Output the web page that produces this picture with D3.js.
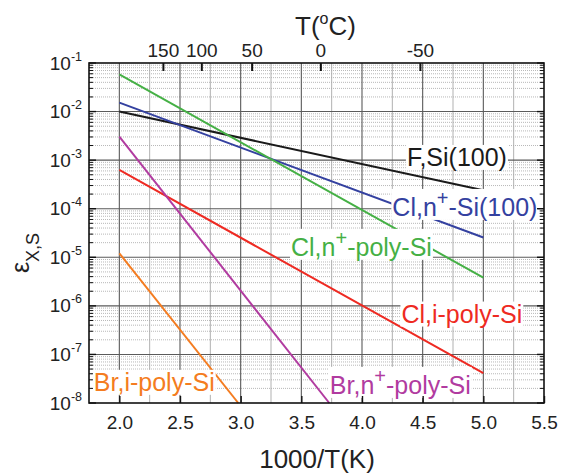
<!DOCTYPE html>
<html>
<head>
<meta charset="utf-8">
<script src="https://cdn.jsdelivr.net/npm/d3@7"></script>
<style>
  body { margin: 0; background: #fff; }
  svg { font-family: Arial, "Liberation Sans", sans-serif; }
</style>
</head>
<body>
<svg id="chart" width="561" height="473"></svg>
<script>
// values
const xTicks = [2.0, 2.5, 3.0, 3.5, 4.0, 4.5, 5.0, 5.5];
const tempTicks = [150, 100, 50, 0, -50];
const yExponents = [-8, -7, -6, -5, -4, -3, -2, -1];

const fSi100 = [[2.0, 1.0e-2], [5.0, 2.4e-4]];
const clNSi100 = [[2.0, 1.53e-2], [5.0, 2.55e-5]];
const clNPoly = [[2.0, 5.8e-2], [5.0, 3.8e-6]];
const clIPoly = [[2.0, 6.3e-4], [5.0, 4.1e-8]];
const brNPoly = [[2.0, 3.05e-3], [3.73, 1e-8]];
const brIPoly = [[2.0, 1.21e-5], [2.98, 1e-8]];

const series = [
  {name: 'F,Si(100)', pts: fSi100, color: '#1a1a1a', lx: 4.37, ly: 7.6e-4},
  {name: 'Cl,n+-Si(100)', pts: clNSi100, color: '#3441a0', lx: 4.25, ly: 7.1e-5},
  {name: 'Cl,n+-poly-Si', pts: clNPoly, color: '#45b045', lx: 3.415, ly: 1.07e-5},
  {name: 'Cl,i-poly-Si', pts: clIPoly, color: '#ee2a22', lx: 4.325, ly: 4.53e-7},
  {name: 'Br,n+-poly-Si', pts: brNPoly, color: '#b13ba0', lx: 3.735, ly: 1.54e-8},
  {name: 'Br,i-poly-Si', pts: brIPoly, color: '#f47c20', lx: 1.79, ly: 1.78e-8}
];

const svg = d3.select('#chart');
const pLeft = 89, pRight = 544, pTop = 63, pBottom = 403;

const x = d3.scaleLinear().domain([1.75, 5.5]).range([pLeft, pRight]);
const y = d3.scaleLog().domain([1e-8, 1e-1]).range([pBottom, pTop]);

const grid = svg.append('g');

// minor horizontal lines (2..9 in each decade)
const minorY = [];
yExponents.slice(0, -1).forEach(e => {
  for (let k = 2; k <= 9; k++) minorY.push(k * Math.pow(10, e));
});
grid.selectAll('line.my').data(minorY).enter().append('line')
    .attr('x1', pLeft).attr('x2', pRight)
    .attr('y1', d => y(d)).attr('y2', d => y(d))
    .attr('stroke', '#b0b0b0').attr('stroke-width', 0.9)
    .attr('stroke-dasharray', '1,1');

// minor vertical lines at quarter steps
const minorX = d3.range(2.25, 5.5, 0.5);
grid.selectAll('line.mx').data(minorX).enter().append('line')
    .attr('x1', d => x(d)).attr('x2', d => x(d))
    .attr('y1', pTop).attr('y2', pBottom)
    .attr('stroke', '#a8a8a8').attr('stroke-width', 0.9);

// major lines
grid.selectAll('line.Mx').data(xTicks.filter(d => d < 5.5)).enter().append('line')
    .attr('x1', d => x(d)).attr('x2', d => x(d))
    .attr('y1', pTop).attr('y2', pBottom)
    .attr('stroke', '#5a5a5a').attr('stroke-width', 1.1);
grid.selectAll('line.My').data(yExponents.slice(1, -1)).enter().append('line')
    .attr('x1', pLeft).attr('x2', pRight)
    .attr('y1', d => y(Math.pow(10, d))).attr('y2', d => y(Math.pow(10, d)))
    .attr('stroke', '#5a5a5a').attr('stroke-width', 1.1);

// data lines
const line = d3.line().x(d => x(d[0])).y(d => y(d[1]));
svg.append('g').selectAll('path').data(series).enter().append('path')
    .attr('d', d => line(d.pts))
    .attr('fill', 'none')
    .attr('stroke', d => d.color)
    .attr('stroke-width', 2);

// series labels with white background
const labels = svg.append('g');
series.forEach(s => {
  const g = labels.append('g');
  const rect = g.append('rect').attr('fill', '#fff');
  const t = g.append('text')
      .attr('x', x(s.lx)).attr('y', y(s.ly))
      .attr('fill', s.color)
      .attr('font-size', 25);
  const parts = s.name.split('+');
  if (parts.length > 1) {
    t.append('tspan').text(parts[0]);
    t.append('tspan').text('+').attr('font-size', 20).attr('dy', -11);
    t.append('tspan').text(parts[1]).attr('dy', 11);
  } else {
    t.text(s.name);
  }
  const b = t.node().getBBox();
  rect.attr('x', b.x - 1).attr('y', b.y + 2).attr('width', b.width + 2).attr('height', b.height - 3);
});

// frame
svg.append('rect')
    .attr('x', pLeft).attr('y', pTop)
    .attr('width', pRight - pLeft).attr('height', pBottom - pTop)
    .attr('fill', 'none').attr('stroke', '#111').attr('stroke-width', 1.6);

// bottom axis
const xAxis = d3.axisBottom(x).tickValues(xTicks).tickFormat(d3.format('.1f'))
    .tickSizeInner(-7).tickSizeOuter(0).tickPadding(13);
const gx = svg.append('g').attr('transform', `translate(0,${pBottom})`).call(xAxis);
gx.select('.domain').remove();
gx.selectAll('line').attr('stroke', '#111').attr('stroke-width', 1.4);
gx.selectAll('text').attr('font-size', 19).attr('fill', '#222')
    .attr('font-family', 'Arial, "Liberation Sans", sans-serif');

// left / right minor ticks
[pLeft, pRight].forEach(px => {
  const dir = px === pLeft ? 1 : -1;
  svg.append('g').selectAll('line').data(minorY).enter().append('line')
      .attr('x1', px).attr('x2', px + dir * 4)
      .attr('y1', d => y(d)).attr('y2', d => y(d))
      .attr('stroke', '#111').attr('stroke-width', 1);
  svg.append('g').selectAll('line').data(yExponents).enter().append('line')
      .attr('x1', px).attr('x2', px + dir * 7)
      .attr('y1', d => y(Math.pow(10, d))).attr('y2', d => y(Math.pow(10, d)))
      .attr('stroke', '#111').attr('stroke-width', 1.4);
});

// left tick labels 10^n
const yl = svg.append('g');
yExponents.forEach(e => {
  const t = yl.append('text')
      .attr('x', 82).attr('y', y(Math.pow(10, e)) + 6.5)
      .attr('text-anchor', 'end').attr('fill', '#222');
  t.append('tspan').text('10').attr('font-size', 19);
  t.append('tspan').text(String(e)).attr('font-size', 12.5).attr('dy', -9);
});

// top axis: temperature in Celsius
const kelvin = c => 1000 / (c + 273.15);
const topAxis = svg.append('g');
topAxis.selectAll('line').data(tempTicks).enter().append('line')
    .attr('x1', d => x(kelvin(d))).attr('x2', d => x(kelvin(d)))
    .attr('y1', pTop).attr('y2', pTop + 8)
    .attr('stroke', '#111').attr('stroke-width', 2);
topAxis.selectAll('text').data(tempTicks).enter().append('text')
    .attr('x', d => x(kelvin(d))).attr('y', 57)
    .attr('text-anchor', 'middle').attr('font-size', 19).attr('fill', '#222')
    .text(d => d);

// axis titles
const tt = svg.append('text').attr('x', 295).attr('y', 35)
    .attr('font-size', 26).attr('fill', '#222');
tt.append('tspan').text('T(');
tt.append('tspan').text('o').attr('font-size', 16).attr('dy', -11);
tt.append('tspan').text('C)').attr('dy', 11);

svg.append('text').attr('x', 317).attr('y', 468)
    .attr('text-anchor', 'middle').attr('font-size', 26).attr('fill', '#222')
    .text('1000/T(K)');

const yt = svg.append('text')
    .attr('transform', 'translate(29,253) rotate(-90)')
    .attr('text-anchor', 'middle').attr('fill', '#222');
yt.append('tspan').text('ε').attr('font-size', 25);
yt.append('tspan').text('X,S').attr('font-size', 18).attr('dy', 10);
</script>
</body>
</html>
